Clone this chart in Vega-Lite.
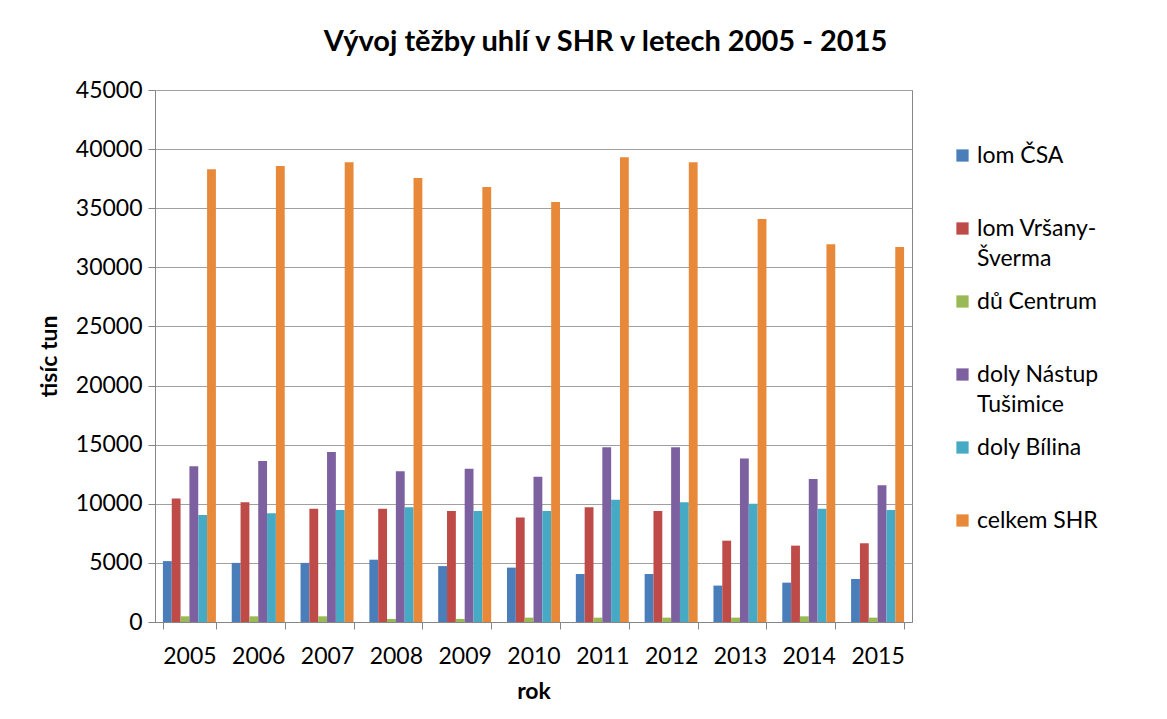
{
  "$schema": "https://vega.github.io/schema/vega-lite/v6.json",
  "autosize": {"type": "none"},
  "width": 757,
  "height": 532,
  "padding": {"left": 155, "top": 90, "right": 255, "bottom": 97},
  "background": "white",
  "config": {
    "font": "Lato",
    "view": {"stroke": "#868686", "strokeWidth": 1},
    "style": {"guide-label": {"lineHeight": 30}}
  },
  "title": {
    "text": "Vývoj těžby uhlí v SHR v letech 2005 - 2015",
    "font": "Lato",
    "fontSize": 29,
    "fontWeight": "bold",
    "color": "#000000",
    "anchor": "middle",
    "dx": 72,
    "offset": 22
  },
  "data": {
    "values": [
      {"rok": "2005", "tezba": "lom ČSA", "hodnota": 5150},
      {"rok": "2006", "tezba": "lom ČSA", "hodnota": 5000},
      {"rok": "2007", "tezba": "lom ČSA", "hodnota": 5000},
      {"rok": "2008", "tezba": "lom ČSA", "hodnota": 5270},
      {"rok": "2009", "tezba": "lom ČSA", "hodnota": 4730},
      {"rok": "2010", "tezba": "lom ČSA", "hodnota": 4600},
      {"rok": "2011", "tezba": "lom ČSA", "hodnota": 4060},
      {"rok": "2012", "tezba": "lom ČSA", "hodnota": 4060},
      {"rok": "2013", "tezba": "lom ČSA", "hodnota": 3080},
      {"rok": "2014", "tezba": "lom ČSA", "hodnota": 3330},
      {"rok": "2015", "tezba": "lom ČSA", "hodnota": 3640},
      {"rok": "2005", "tezba": "lom Vršany-Šverma", "hodnota": 10450},
      {"rok": "2006", "tezba": "lom Vršany-Šverma", "hodnota": 10120},
      {"rok": "2007", "tezba": "lom Vršany-Šverma", "hodnota": 9580},
      {"rok": "2008", "tezba": "lom Vršany-Šverma", "hodnota": 9580},
      {"rok": "2009", "tezba": "lom Vršany-Šverma", "hodnota": 9390},
      {"rok": "2010", "tezba": "lom Vršany-Šverma", "hodnota": 8830},
      {"rok": "2011", "tezba": "lom Vršany-Šverma", "hodnota": 9700},
      {"rok": "2012", "tezba": "lom Vršany-Šverma", "hodnota": 9390},
      {"rok": "2013", "tezba": "lom Vršany-Šverma", "hodnota": 6880},
      {"rok": "2014", "tezba": "lom Vršany-Šverma", "hodnota": 6460},
      {"rok": "2015", "tezba": "lom Vršany-Šverma", "hodnota": 6660},
      {"rok": "2005", "tezba": "dů Centrum", "hodnota": 480},
      {"rok": "2006", "tezba": "dů Centrum", "hodnota": 480},
      {"rok": "2007", "tezba": "dů Centrum", "hodnota": 480},
      {"rok": "2008", "tezba": "dů Centrum", "hodnota": 260},
      {"rok": "2009", "tezba": "dů Centrum", "hodnota": 260},
      {"rok": "2010", "tezba": "dů Centrum", "hodnota": 370},
      {"rok": "2011", "tezba": "dů Centrum", "hodnota": 370},
      {"rok": "2012", "tezba": "dů Centrum", "hodnota": 370},
      {"rok": "2013", "tezba": "dů Centrum", "hodnota": 370},
      {"rok": "2014", "tezba": "dů Centrum", "hodnota": 480},
      {"rok": "2015", "tezba": "dů Centrum", "hodnota": 370},
      {"rok": "2005", "tezba": "doly Nástup Tušimice", "hodnota": 13170},
      {"rok": "2006", "tezba": "doly Nástup Tušimice", "hodnota": 13620},
      {"rok": "2007", "tezba": "doly Nástup Tušimice", "hodnota": 14380},
      {"rok": "2008", "tezba": "doly Nástup Tušimice", "hodnota": 12750},
      {"rok": "2009", "tezba": "doly Nástup Tušimice", "hodnota": 12970},
      {"rok": "2010", "tezba": "doly Nástup Tušimice", "hodnota": 12290},
      {"rok": "2011", "tezba": "doly Nástup Tušimice", "hodnota": 14780},
      {"rok": "2012", "tezba": "doly Nástup Tušimice", "hodnota": 14780},
      {"rok": "2013", "tezba": "doly Nástup Tušimice", "hodnota": 13820},
      {"rok": "2014", "tezba": "doly Nástup Tušimice", "hodnota": 12100},
      {"rok": "2015", "tezba": "doly Nástup Tušimice", "hodnota": 11570},
      {"rok": "2005", "tezba": "doly Bílina", "hodnota": 9050},
      {"rok": "2006", "tezba": "doly Bílina", "hodnota": 9190},
      {"rok": "2007", "tezba": "doly Bílina", "hodnota": 9470},
      {"rok": "2008", "tezba": "doly Bílina", "hodnota": 9700},
      {"rok": "2009", "tezba": "doly Bílina", "hodnota": 9390},
      {"rok": "2010", "tezba": "doly Bílina", "hodnota": 9390},
      {"rok": "2011", "tezba": "doly Bílina", "hodnota": 10350},
      {"rok": "2012", "tezba": "doly Bílina", "hodnota": 10120},
      {"rok": "2013", "tezba": "doly Bílina", "hodnota": 10010},
      {"rok": "2014", "tezba": "doly Bílina", "hodnota": 9580},
      {"rok": "2015", "tezba": "doly Bílina", "hodnota": 9470},
      {"rok": "2005", "tezba": "celkem SHR", "hodnota": 38300},
      {"rok": "2006", "tezba": "celkem SHR", "hodnota": 38580},
      {"rok": "2007", "tezba": "celkem SHR", "hodnota": 38890},
      {"rok": "2008", "tezba": "celkem SHR", "hodnota": 37560},
      {"rok": "2009", "tezba": "celkem SHR", "hodnota": 36800},
      {"rok": "2010", "tezba": "celkem SHR", "hodnota": 35530},
      {"rok": "2011", "tezba": "celkem SHR", "hodnota": 39310},
      {"rok": "2012", "tezba": "celkem SHR", "hodnota": 38890},
      {"rok": "2013", "tezba": "celkem SHR", "hodnota": 34090},
      {"rok": "2014", "tezba": "celkem SHR", "hodnota": 31950},
      {"rok": "2015", "tezba": "celkem SHR", "hodnota": 31720}
    ]
  },
  "mark": {"type": "bar"},
  "encoding": {
    "x": {
      "field": "rok",
      "type": "nominal",
      "scale": {"paddingInner": 0.23, "paddingOuter": 0.115},
      "axis": {
        "title": "rok",
        "titleFont": "Lato",
        "titleFontSize": 23,
        "titleFontWeight": "bold",
        "titleColor": "#000000",
        "titlePadding": 12,
        "labelAngle": 0,
        "labelFontSize": 23,
        "labelColor": "#000000",
        "labelPadding": 16,
        "tickBand": "extent",
        "tickSize": 7,
        "tickColor": "#868686",
        "domainColor": "#868686",
        "grid": false
      }
    },
    "xOffset": {
      "field": "tezba",
      "type": "nominal",
      "sort": ["lom ČSA", "lom Vršany-Šverma", "dů Centrum", "doly Nástup Tušimice", "doly Bílina", "celkem SHR"],
      "scale": {"paddingInner": 0, "paddingOuter": 0}
    },
    "y": {
      "field": "hodnota",
      "type": "quantitative",
      "scale": {"domain": [0, 45000], "nice": false},
      "axis": {
        "title": "tisíc tun",
        "titleFont": "Lato",
        "titleFontSize": 23,
        "titleFontWeight": "bold",
        "titleColor": "#000000",
        "titlePadding": 14,
        "values": [0, 5000, 10000, 15000, 20000, 25000, 30000, 35000, 40000, 45000],
        "format": "d",
        "labelFontSize": 23,
        "labelColor": "#000000",
        "labelPadding": 6,
        "tickSize": 7,
        "tickColor": "#868686",
        "domainColor": "#868686",
        "gridColor": "#a0a0a0",
        "gridWidth": 1
      }
    },
    "color": {
      "field": "tezba",
      "type": "nominal",
      "sort": ["lom ČSA", "lom Vršany-Šverma", "dů Centrum", "doly Nástup Tušimice", "doly Bílina", "celkem SHR"],
      "scale": {
        "domain": ["lom ČSA", "lom Vršany-Šverma", "dů Centrum", "doly Nástup Tušimice", "doly Bílina", "celkem SHR"],
        "range": ["#4A7EBB", "#BE4B48", "#98B954", "#7D60A0", "#46AAC5", "#E8893A"]
      },
      "legend": {
        "title": null,
        "orient": "none",
        "legendX": 796,
        "legendY": 54,
        "symbolType": "square",
        "symbolSize": 150,
        "symbolStrokeWidth": 0,
        "labelFont": "Lato",
        "labelFontSize": 23,
        "labelColor": "#000000",
        "labelLimit": 300,
        "labelOffset": 3,
        "rowPadding": 19,
        "gridAlign": "all",
        "labelExpr": "datum.label == 'lom Vršany-Šverma' ? ['lom Vršany-', 'Šverma'] : datum.label == 'doly Nástup Tušimice' ? ['doly Nástup', 'Tušimice'] : [datum.label, ' ']"
      }
    }
  }
}
